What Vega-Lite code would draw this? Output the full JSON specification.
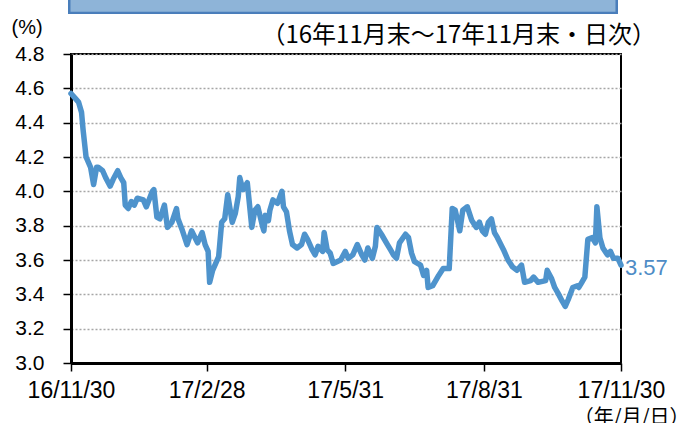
{
  "$schema": "https://vega.github.io/schema/vega-lite/v6.json",
  "width": 550,
  "height": 309,
  "autosize": {"type": "none"},
  "padding": {"left": 71, "top": 54, "right": 57, "bottom": 60},
  "background": "white",
  "view": {"stroke": "#000000", "strokeWidth": 2},
  "title": {
    "text": "（16年11月末～17年11月末・日次）",
    "anchor": "end",
    "frame": "group",
    "dx": 35,
    "dy": 69,
    "offset": 0,
    "baseline": "alphabetic",
    "font": "Noto Sans CJK JP",
    "fontSize": 24,
    "fontWeight": "normal",
    "color": "#000000"
  },
  "data": {"values": [
    {"date": "2016-11-30", "rate": 4.57},
    {"date": "2016-12-03", "rate": 4.54},
    {"date": "2016-12-05", "rate": 4.52},
    {"date": "2016-12-07", "rate": 4.46},
    {"date": "2016-12-08", "rate": 4.36},
    {"date": "2016-12-09", "rate": 4.28},
    {"date": "2016-12-10", "rate": 4.20},
    {"date": "2016-12-11", "rate": 4.18},
    {"date": "2016-12-13", "rate": 4.14},
    {"date": "2016-12-15", "rate": 4.04},
    {"date": "2016-12-17", "rate": 4.14},
    {"date": "2016-12-18", "rate": 4.14},
    {"date": "2016-12-21", "rate": 4.12},
    {"date": "2016-12-23", "rate": 4.08},
    {"date": "2016-12-26", "rate": 4.03},
    {"date": "2016-12-28", "rate": 4.07},
    {"date": "2016-12-31", "rate": 4.12},
    {"date": "2017-01-02", "rate": 4.08},
    {"date": "2017-01-04", "rate": 4.05},
    {"date": "2017-01-05", "rate": 3.92},
    {"date": "2017-01-07", "rate": 3.90},
    {"date": "2017-01-09", "rate": 3.94},
    {"date": "2017-01-11", "rate": 3.92},
    {"date": "2017-01-13", "rate": 3.96},
    {"date": "2017-01-17", "rate": 3.95},
    {"date": "2017-01-19", "rate": 3.91},
    {"date": "2017-01-23", "rate": 4.00},
    {"date": "2017-01-24", "rate": 4.01},
    {"date": "2017-01-26", "rate": 3.85},
    {"date": "2017-01-28", "rate": 3.84},
    {"date": "2017-01-31", "rate": 3.92},
    {"date": "2017-02-02", "rate": 3.79},
    {"date": "2017-02-05", "rate": 3.82},
    {"date": "2017-02-08", "rate": 3.90},
    {"date": "2017-02-09", "rate": 3.84},
    {"date": "2017-02-12", "rate": 3.77},
    {"date": "2017-02-15", "rate": 3.69},
    {"date": "2017-02-18", "rate": 3.77},
    {"date": "2017-02-22", "rate": 3.70},
    {"date": "2017-02-25", "rate": 3.76},
    {"date": "2017-02-27", "rate": 3.69},
    {"date": "2017-03-01", "rate": 3.65},
    {"date": "2017-03-02", "rate": 3.47},
    {"date": "2017-03-04", "rate": 3.54},
    {"date": "2017-03-08", "rate": 3.62},
    {"date": "2017-03-10", "rate": 3.82},
    {"date": "2017-03-12", "rate": 3.84},
    {"date": "2017-03-14", "rate": 3.98},
    {"date": "2017-03-17", "rate": 3.82},
    {"date": "2017-03-19", "rate": 3.87},
    {"date": "2017-03-21", "rate": 3.97},
    {"date": "2017-03-22", "rate": 4.08},
    {"date": "2017-03-24", "rate": 4.01},
    {"date": "2017-03-27", "rate": 4.05},
    {"date": "2017-03-30", "rate": 3.79},
    {"date": "2017-04-01", "rate": 3.89},
    {"date": "2017-04-03", "rate": 3.91},
    {"date": "2017-04-06", "rate": 3.80},
    {"date": "2017-04-07", "rate": 3.77},
    {"date": "2017-04-08", "rate": 3.86},
    {"date": "2017-04-10", "rate": 3.83},
    {"date": "2017-04-11", "rate": 3.89},
    {"date": "2017-04-13", "rate": 3.95},
    {"date": "2017-04-16", "rate": 3.93},
    {"date": "2017-04-19", "rate": 4.00},
    {"date": "2017-04-20", "rate": 3.91},
    {"date": "2017-04-22", "rate": 3.88},
    {"date": "2017-04-24", "rate": 3.77},
    {"date": "2017-04-26", "rate": 3.69},
    {"date": "2017-04-29", "rate": 3.67},
    {"date": "2017-05-02", "rate": 3.69},
    {"date": "2017-05-04", "rate": 3.75},
    {"date": "2017-05-06", "rate": 3.72},
    {"date": "2017-05-09", "rate": 3.66},
    {"date": "2017-05-11", "rate": 3.63},
    {"date": "2017-05-13", "rate": 3.68},
    {"date": "2017-05-16", "rate": 3.65},
    {"date": "2017-05-17", "rate": 3.76},
    {"date": "2017-05-19", "rate": 3.66},
    {"date": "2017-05-21", "rate": 3.64},
    {"date": "2017-05-23", "rate": 3.58},
    {"date": "2017-05-28", "rate": 3.60},
    {"date": "2017-05-31", "rate": 3.65},
    {"date": "2017-06-02", "rate": 3.61},
    {"date": "2017-06-05", "rate": 3.63},
    {"date": "2017-06-06", "rate": 3.65},
    {"date": "2017-06-08", "rate": 3.69},
    {"date": "2017-06-11", "rate": 3.63},
    {"date": "2017-06-13", "rate": 3.60},
    {"date": "2017-06-15", "rate": 3.67},
    {"date": "2017-06-18", "rate": 3.61},
    {"date": "2017-06-20", "rate": 3.68},
    {"date": "2017-06-21", "rate": 3.79},
    {"date": "2017-06-24", "rate": 3.75},
    {"date": "2017-06-28", "rate": 3.69},
    {"date": "2017-06-30", "rate": 3.66},
    {"date": "2017-07-02", "rate": 3.63},
    {"date": "2017-07-04", "rate": 3.61},
    {"date": "2017-07-06", "rate": 3.70},
    {"date": "2017-07-10", "rate": 3.75},
    {"date": "2017-07-12", "rate": 3.73},
    {"date": "2017-07-14", "rate": 3.64},
    {"date": "2017-07-16", "rate": 3.59},
    {"date": "2017-07-20", "rate": 3.57},
    {"date": "2017-07-22", "rate": 3.51},
    {"date": "2017-07-24", "rate": 3.54},
    {"date": "2017-07-25", "rate": 3.44},
    {"date": "2017-07-28", "rate": 3.45},
    {"date": "2017-07-30", "rate": 3.48},
    {"date": "2017-08-01", "rate": 3.51},
    {"date": "2017-08-04", "rate": 3.55},
    {"date": "2017-08-07", "rate": 3.55},
    {"date": "2017-08-08", "rate": 3.55},
    {"date": "2017-08-10", "rate": 3.90},
    {"date": "2017-08-12", "rate": 3.89},
    {"date": "2017-08-15", "rate": 3.77},
    {"date": "2017-08-17", "rate": 3.89},
    {"date": "2017-08-20", "rate": 3.91},
    {"date": "2017-08-23", "rate": 3.83},
    {"date": "2017-08-26", "rate": 3.79},
    {"date": "2017-08-28", "rate": 3.82},
    {"date": "2017-08-30", "rate": 3.77},
    {"date": "2017-09-01", "rate": 3.75},
    {"date": "2017-09-03", "rate": 3.82},
    {"date": "2017-09-05", "rate": 3.84},
    {"date": "2017-09-07", "rate": 3.76},
    {"date": "2017-09-09", "rate": 3.73},
    {"date": "2017-09-13", "rate": 3.66},
    {"date": "2017-09-16", "rate": 3.60},
    {"date": "2017-09-19", "rate": 3.56},
    {"date": "2017-09-22", "rate": 3.54},
    {"date": "2017-09-25", "rate": 3.57},
    {"date": "2017-09-27", "rate": 3.47},
    {"date": "2017-10-01", "rate": 3.48},
    {"date": "2017-10-03", "rate": 3.50},
    {"date": "2017-10-06", "rate": 3.47},
    {"date": "2017-10-11", "rate": 3.48},
    {"date": "2017-10-12", "rate": 3.54},
    {"date": "2017-10-15", "rate": 3.49},
    {"date": "2017-10-17", "rate": 3.44},
    {"date": "2017-10-19", "rate": 3.41},
    {"date": "2017-10-22", "rate": 3.36},
    {"date": "2017-10-24", "rate": 3.33},
    {"date": "2017-10-26", "rate": 3.37},
    {"date": "2017-10-29", "rate": 3.44},
    {"date": "2017-11-01", "rate": 3.45},
    {"date": "2017-11-02", "rate": 3.44},
    {"date": "2017-11-04", "rate": 3.47},
    {"date": "2017-11-06", "rate": 3.50},
    {"date": "2017-11-08", "rate": 3.72},
    {"date": "2017-11-11", "rate": 3.73},
    {"date": "2017-11-13", "rate": 3.70},
    {"date": "2017-11-14", "rate": 3.91},
    {"date": "2017-11-16", "rate": 3.73},
    {"date": "2017-11-18", "rate": 3.67},
    {"date": "2017-11-21", "rate": 3.63},
    {"date": "2017-11-23", "rate": 3.65},
    {"date": "2017-11-25", "rate": 3.61},
    {"date": "2017-11-28", "rate": 3.61},
    {"date": "2017-11-30", "rate": 3.57}
  ]},
  "encoding": {
    "x": {
      "field": "date",
      "type": "temporal",
      "scale": {
        "type": "utc",
        "domain": [
          {"year": 2016, "month": 11, "date": 30, "utc": true},
          {"year": 2017, "month": 11, "date": 30, "utc": true}
        ],
        "nice": false
      },
      "axis": {
        "values": [
          {"year": 2016, "month": 11, "date": 30, "utc": true},
          {"year": 2017, "month": 2, "date": 28, "utc": true},
          {"year": 2017, "month": 5, "date": 31, "utc": true},
          {"year": 2017, "month": 8, "date": 31, "utc": true},
          {"year": 2017, "month": 11, "date": 30, "utc": true}
        ],
        "labelExpr": "utcFormat(datum.value, '%y/%-m/%-d')",
        "title": "（年/月/日）",
        "titleFont": "Noto Sans CJK JP",
        "titleFontSize": 20,
        "titleFontWeight": "normal",
        "titleColor": "#000000",
        "titleAngle": 0,
        "titleAlign": "right",
        "titleBaseline": "top",
        "titleX": 618,
        "titleY": 44,
        "grid": false,
        "domainColor": "#000000",
        "domainWidth": 3,
        "tickColor": "#000000",
        "tickWidth": 1.5,
        "tickSize": 8,
        "labelFont": "Liberation Sans",
        "labelFontSize": 23,
        "labelColor": "#000000",
        "labelPadding": 8,
        "labelOverlap": false,
        "labelFlush": false
      }
    },
    "y": {
      "field": "rate",
      "type": "quantitative",
      "scale": {"domain": [3, 4.8], "nice": false, "zero": false},
      "axis": {
        "values": [3.0, 3.2, 3.4, 3.6, 3.8, 4.0, 4.2, 4.4, 4.6, 4.8],
        "format": ".1f",
        "title": "(%)",
        "titleFont": "Liberation Sans",
        "titleFontSize": 20,
        "titleFontWeight": "normal",
        "titleColor": "#000000",
        "titleAngle": 0,
        "titleAlign": "left",
        "titleBaseline": "middle",
        "titleX": -60,
        "titleY": -27,
        "grid": true,
        "gridColor": "#a6a6a6",
        "gridDash": [2, 2],
        "gridWidth": 1.5,
        "domainColor": "#000000",
        "domainWidth": 3,
        "tickColor": "#000000",
        "tickWidth": 1.5,
        "tickSize": 8,
        "labelFont": "Liberation Sans",
        "labelFontSize": 21,
        "labelColor": "#000000",
        "labelPadding": 19,
        "labelOverlap": false,
        "labelFlush": false
      }
    }
  },
  "layer": [
    {
      "mark": {"type": "rect", "fill": "#8eb4d8", "stroke": "#4a7ebb", "strokeWidth": 2, "clip": false},
      "encoding": {
        "x": {"datum": {"year": 2016, "month": 11, "date": 29, "utc": true}, "type": "temporal"},
        "x2": {"datum": {"year": 2017, "month": 11, "date": 27, "utc": true}},
        "y": {"datum": 5.04, "type": "quantitative"},
        "y2": {"datum": 5.12}
      }
    },
    {
      "mark": {"type": "line", "color": "#4e93cc", "strokeWidth": 5.5, "strokeJoin": "round", "strokeCap": "round"}
    },
    {
      "transform": [{"filter": "time(datum.date) == utc(2017, 10, 30)"}],
      "mark": {"type": "text", "align": "left", "baseline": "middle", "dx": 4, "dy": 3, "font": "Liberation Sans", "fontSize": 22, "color": "#4e8cc6"},
      "encoding": {"text": {"field": "rate", "type": "quantitative", "format": ".2f"}}
    }
  ]
}
